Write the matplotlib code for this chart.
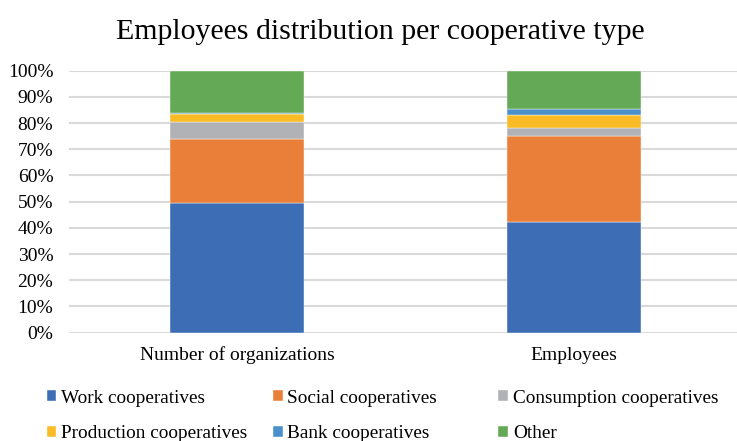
import matplotlib
matplotlib.use("Agg")
import matplotlib.pyplot as plt
import numpy as np

plt.rcParams['font.family'] = ['Liberation Serif', 'DejaVu Serif']

categories = ['Number of organizations', 'Employees']
series_names = ['Work cooperatives', 'Social cooperatives', 'Consumption cooperatives',
                'Production cooperatives', 'Bank cooperatives', 'Other']
work = [49.6, 42.3]
social = [24.3, 32.8]
consumption = [6.5, 3.1]
production = [3.0, 4.8]
bank = [0.6, 2.5]
other = [16.0, 14.5]
colors = ['#3D6DB5', '#E97F38', '#B1B2B5', '#F9BC26', '#4A90CA', '#64A955']

fig = plt.figure(figsize=(7.37, 4.41), dpi=100)
ax = fig.add_axes([0.093, 0.2456, 0.9145, 0.5941])

x = np.arange(len(categories))
bottom = np.zeros(len(categories))
handles = []
for name, vals, c in zip(series_names, [work, social, consumption, production, bank, other], colors):
    vals = np.array(vals) / 100
    b = ax.bar(x, vals, 0.4, bottom=bottom, color=c, label=name, zorder=3,
               edgecolor='white', linewidth=0.3)
    handles.append(b)
    bottom += vals

ax.set_xlim(-0.5, 1.5)
ax.set_ylim(0, 1)
ticks = np.arange(0, 1.01, 0.1)
ax.set_yticks(ticks)
ax.set_yticklabels([f'{int(round(v * 100))}%' for v in ticks], fontsize=14)
ax.set_xticks(x)
ax.set_xticklabels(categories, fontsize=14)
ax.tick_params(axis='y', length=0, pad=11)
ax.tick_params(axis='x', length=0, pad=10)
ax.yaxis.grid(True, color='#D9D9D9', linewidth=1.5, zorder=0)
for s in ax.spines.values():
    s.set_visible(False)

fig.text(0.516, 0.927, 'Employees distribution per cooperative type', ha='center', va='center', fontsize=21.5)

# legend laid out as three equal-width columns, two rows each
col_x = [0.0634, 0.3704, 0.6761]
for col, x0 in enumerate(col_x):
    idx = [col, col + 3]
    fig.legend([handles[i] for i in idx], [series_names[i] for i in idx],
               loc='upper left', bbox_to_anchor=(x0, 0.116), frameon=False,
               fontsize=13.9, handlelength=0.5, handleheight=0.5, handletextpad=0.25,
               labelspacing=0.94, borderpad=0, borderaxespad=0)

fig.savefig('out.png', dpi=100)
